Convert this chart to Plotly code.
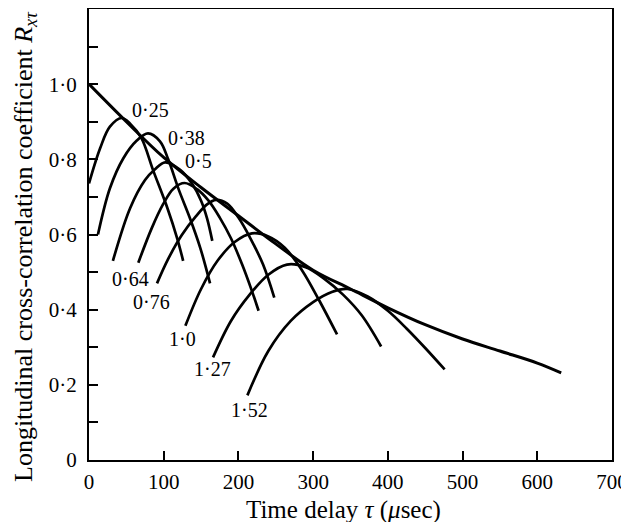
import plotly.graph_objects as go

# Envelope curve (locus of maxima)
env_tau = [0, 50, 100, 150, 200, 250, 300, 350, 400, 450, 500, 550, 600, 632]
env_R = [1.0, 0.90, 0.805, 0.725, 0.65, 0.575, 0.505, 0.455, 0.405, 0.36, 0.322, 0.29, 0.258, 0.232]

# Individual space-time correlation curves, labelled by separation
tau_025 = [0, 15, 28, 44, 55, 70, 86, 105, 118, 126]
R_025 = [0.736, 0.83, 0.887, 0.91, 0.895, 0.857, 0.77, 0.67, 0.59, 0.53]

tau_038 = [12, 28, 46, 64, 79, 95, 106, 120, 135, 149, 162]
R_038 = [0.60, 0.723, 0.803, 0.85, 0.869, 0.848, 0.80, 0.72, 0.644, 0.564, 0.47]

tau_05 = [32, 55, 75, 88, 102, 122, 138, 150, 158, 165]
R_05 = [0.53, 0.67, 0.745, 0.773, 0.792, 0.772, 0.735, 0.69, 0.643, 0.583]

tau_064 = [66, 84, 99, 113, 128, 145, 160, 175, 190, 205, 218, 227]
R_064 = [0.525, 0.617, 0.68, 0.722, 0.737, 0.72, 0.69, 0.645, 0.59, 0.52, 0.45, 0.397]

tau_076 = [91, 106, 124, 143, 158, 170, 185, 200, 216, 233, 248]
R_076 = [0.47, 0.535, 0.598, 0.648, 0.68, 0.692, 0.682, 0.645, 0.59, 0.52, 0.432]

tau_10 = [129, 150, 172, 195, 218, 240, 262, 285, 308, 332]
R_10 = [0.357, 0.455, 0.53, 0.58, 0.603, 0.595, 0.565, 0.505, 0.425, 0.334]

tau_127 = [166, 190, 215, 240, 265, 290, 315, 340, 365, 391]
R_127 = [0.273, 0.37, 0.44, 0.493, 0.52, 0.513, 0.482, 0.44, 0.385, 0.302]

tau_152 = [212, 240, 270, 300, 325, 346, 373, 400, 425, 450, 476]
R_152 = [0.172, 0.29, 0.37, 0.42, 0.447, 0.455, 0.435, 0.397, 0.35, 0.298, 0.241]

curve_labels = ["0·25", "0·38", "0·5", "0·64", "0·76", "1·0", "1·27", "1·52"]
label_tau = [82, 130, 146, 55, 84, 125, 165, 215]
label_R = [0.932, 0.856, 0.795, 0.482, 0.421, 0.323, 0.241, 0.132]

x_ticks = [0, 100, 200, 300, 400, 500, 600, 700]
x_ticktext = ["0", "100", "200", "300", "400", "500", "600", "700"]
y_ticks = [0, 0.1, 0.2, 0.3, 0.4, 0.5, 0.6, 0.7, 0.8, 0.9, 1.0, 1.1]
y_ticktext = ["0", "", "0·2", "", "0·4", "", "0·6", "", "0·8", "", "1·0", ""]

x_title = "Time delay <i>τ</i> (<i>μ</i>sec)"
y_title = "Longitudinal cross-correlation coefficient <i>R</i><sub><i>xτ</i></sub>"

SERIF = "Liberation Serif, Times New Roman, serif"

fig = go.Figure()

fig.add_trace(go.Scatter(x=env_tau, y=env_R, mode="lines",
                         line=dict(color="black", width=3, shape="spline", smoothing=1.0),
                         hoverinfo="skip", showlegend=False))

curves = [(tau_025, R_025), (tau_038, R_038), (tau_05, R_05), (tau_064, R_064),
          (tau_076, R_076), (tau_10, R_10), (tau_127, R_127), (tau_152, R_152)]
for (t, r), name in zip(curves, curve_labels):
    fig.add_trace(go.Scatter(x=t, y=r, mode="lines", name=name,
                             line=dict(color="black", width=2.7, shape="spline", smoothing=1.0),
                             showlegend=False))

for name, lx, ly in zip(curve_labels, label_tau, label_R):
    fig.add_annotation(x=lx, y=ly, text=name, showarrow=False,
                       font=dict(family=SERIF, size=20, color="black"))

# axis titles placed as paper-referenced text
fig.add_annotation(xref="paper", yref="paper", x=0.4857, y=-0.111, text=x_title,
                   showarrow=False, xanchor="center", yanchor="middle",
                   font=dict(family=SERIF, size=25, color="black"))
fig.add_annotation(xref="paper", yref="paper", x=-0.1224, y=0.4745, text=y_title,
                   showarrow=False, xanchor="center", yanchor="middle", textangle=-90,
                   font=dict(family=SERIF, size=26, color="black"))

# The page body has an 8px margin, so the figure is drawn smaller and offset.
fig.update_layout(
    width=621, height=514,
    margin=dict(l=81, r=17, t=1, b=62, autoexpand=False),
    paper_bgcolor="white", plot_bgcolor="white",
    font=dict(family=SERIF, color="black"),
)

fig.update_xaxes(
    range=[0, 700], tickvals=x_ticks, ticktext=x_ticktext,
    ticks="inside", ticklen=9, tickwidth=2, tickcolor="black",
    showline=True, linewidth=2, linecolor="black", mirror=True,
    showgrid=False, zeroline=False, automargin=False, ticklabelstandoff=2,
    tickfont=dict(family=SERIF, size=21, color="black"),
)
fig.update_yaxes(
    range=[0, 1.2], tickvals=y_ticks, ticktext=y_ticktext,
    ticks="inside", ticklen=9, tickwidth=2, tickcolor="black",
    showline=True, linewidth=2, linecolor="black", mirror=True,
    showgrid=False, zeroline=False, automargin=False, ticklabelstandoff=6,
    tickfont=dict(family=SERIF, size=21, color="black"),
)

fig.write_html("out.html")
